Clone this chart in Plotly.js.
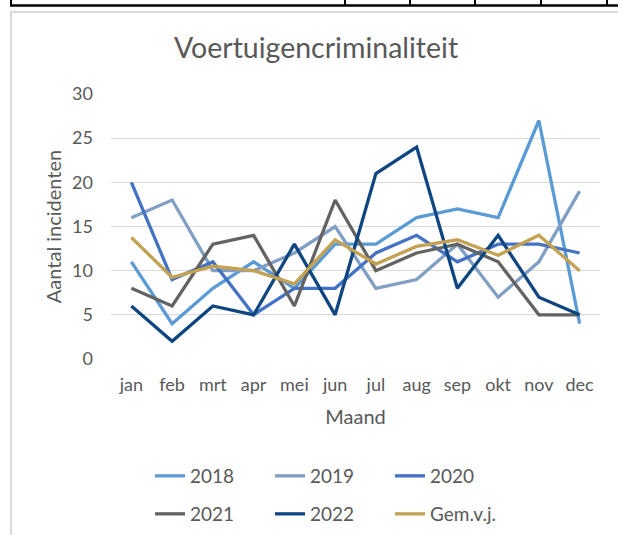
<!DOCTYPE html>
<html>
<head>
<meta charset="utf-8">
<script src="https://cdn.plot.ly/plotly-3.0.1.min.js"></script>
<style>
  html, body { margin: 0; padding: 0; background: #ffffff; }
  #chart { width: 618px; height: 535px; }
</style>
</head>
<body>
<div id="chart"></div>
<script>
// ---- data ----
const months = ["jan", "feb", "mrt", "apr", "mei", "jun", "jul", "aug", "sep", "okt", "nov", "dec"];
const y2018 = [11, 4, 8, 11, 8, 13, 13, 16, 17, 16, 27, 4];
const y2019 = [16, 18, 10, 10, 12, 15, 8, 9, 13, 7, 11, 19];
const y2020 = [20, 9, 11, 5, 8, 8, 12, 14, 11, 13, 13, 12];
const y2021 = [8, 6, 13, 14, 6, 18, 10, 12, 13, 11, 5, 5];
const y2022 = [6, 2, 6, 5, 13, 5, 21, 24, 8, 14, 7, 5];
const gemVJ = [13.75, 9.25, 10.5, 10, 8.5, 13.5, 10.75, 12.75, 13.5, 11.75, 14, 10];
const seriesNames = ["2018", "2019", "2020", "2021", "2022", "Gem.v.j."];

// ---- styling ----
const colors = ["#5B9BD5", "#819FC4", "#4472C4", "#636363", "#0F4681", "#C4A253"];
const textColor = "#595959";
const FONT = "Lato, 'Open Sans', sans-serif";
const W = 618, H = 535;
const plotL = 111, plotR = 600, plotT = 94, plotB = 359;

const seriesData = [y2018, y2019, y2020, y2021, y2022, gemVJ];
const legendOf = ["legend", "legend", "legend", "legend2", "legend2", "legend2"];

const traces = seriesData.map((vals, i) => ({
  type: "scatter",
  mode: "lines",
  name: seriesNames[i],
  x: months,
  y: vals,
  line: { color: colors[i], width: 3.3 },
  legend: legendOf[i],
  hoverinfo: "skip"
}));

// pixel -> paper helpers for decorative frame shapes
const px = (x) => (x - plotL) / (plotR - plotL);
const py = (y) => (plotB - y) / (plotB - plotT);

const shapes = [
  // chart area border (light gray)
  { type: "rect", xref: "paper", yref: "paper", x0: px(11), x1: px(640), y0: py(560), y1: py(12),
    line: { color: "#D9D9D9", width: 2 }, fillcolor: "rgba(0,0,0,0)", layer: "below" },
  // table fragment above the chart
  { type: "line", xref: "paper", yref: "paper", x0: px(10), x1: px(620), y0: py(5.5), y1: py(5.5),
    line: { color: "#000000", width: 2.5 } }
];
[11, 345, 410, 475, 541, 607].forEach(xv => {
  shapes.push({ type: "line", xref: "paper", yref: "paper", x0: px(xv), x1: px(xv), y0: py(6), y1: py(-5),
    line: { color: "#000000", width: 2 } });
});

const legendCommon = {
  orientation: "h",
  xref: "container", yref: "container",
  xanchor: "left", yanchor: "middle",
  entrywidth: 75, entrywidthmode: "pixels",
  font: { family: FONT, size: 19, color: textColor },
  bgcolor: "rgba(0,0,0,0)",
  itemclick: false, itemdoubleclick: false
};

const layout = {
  width: W, height: H,
  paper_bgcolor: "#ffffff",
  plot_bgcolor: "#ffffff",
  margin: { l: plotL, r: W - plotR, t: plotT, b: H - plotB, pad: 0 },
  title: {
    text: "Voertuigencriminaliteit",
    font: { family: FONT, size: 28.5, color: textColor },
    x: 316 / W, xref: "container", xanchor: "center",
    y: 1 - 48 / H, yref: "container", yanchor: "middle"
  },
  xaxis: {
    type: "category",
    range: [-0.5, 11.5],
    tickvals: months,
    ticktext: months,
    showgrid: false,
    zeroline: false,
    showline: false,
    ticks: "",
    ticklabelstandoff: 13,
    tickfont: { family: FONT, size: 18, color: textColor },
    title: { text: "Maand", font: { family: FONT, size: 20, color: textColor }, standoff: 15 },
    fixedrange: true
  },
  yaxis: {
    range: [0, 30],
    tickvals: [0, 5, 10, 15, 20, 25, 30],
    showgrid: true,
    gridcolor: "#D9D9D9",
    gridwidth: 1,
    zeroline: false,
    showline: false,
    ticks: "",
    ticklabelstandoff: 17,
    tickfont: { family: FONT, size: 18, color: textColor },
    title: { text: "Aantal incidenten", font: { family: FONT, size: 20, color: textColor }, standoff: 5 },
    fixedrange: true
  },
  showlegend: true,
  legend: Object.assign({}, legendCommon, { x: 150 / W, y: 1 - 476 / H }),
  legend2: Object.assign({}, legendCommon, { x: 150 / W, y: 1 - 514 / H }),
  shapes: shapes
};

Plotly.newPlot("chart", traces, layout, { displayModeBar: false, staticPlot: true });
</script>
</body>
</html>
